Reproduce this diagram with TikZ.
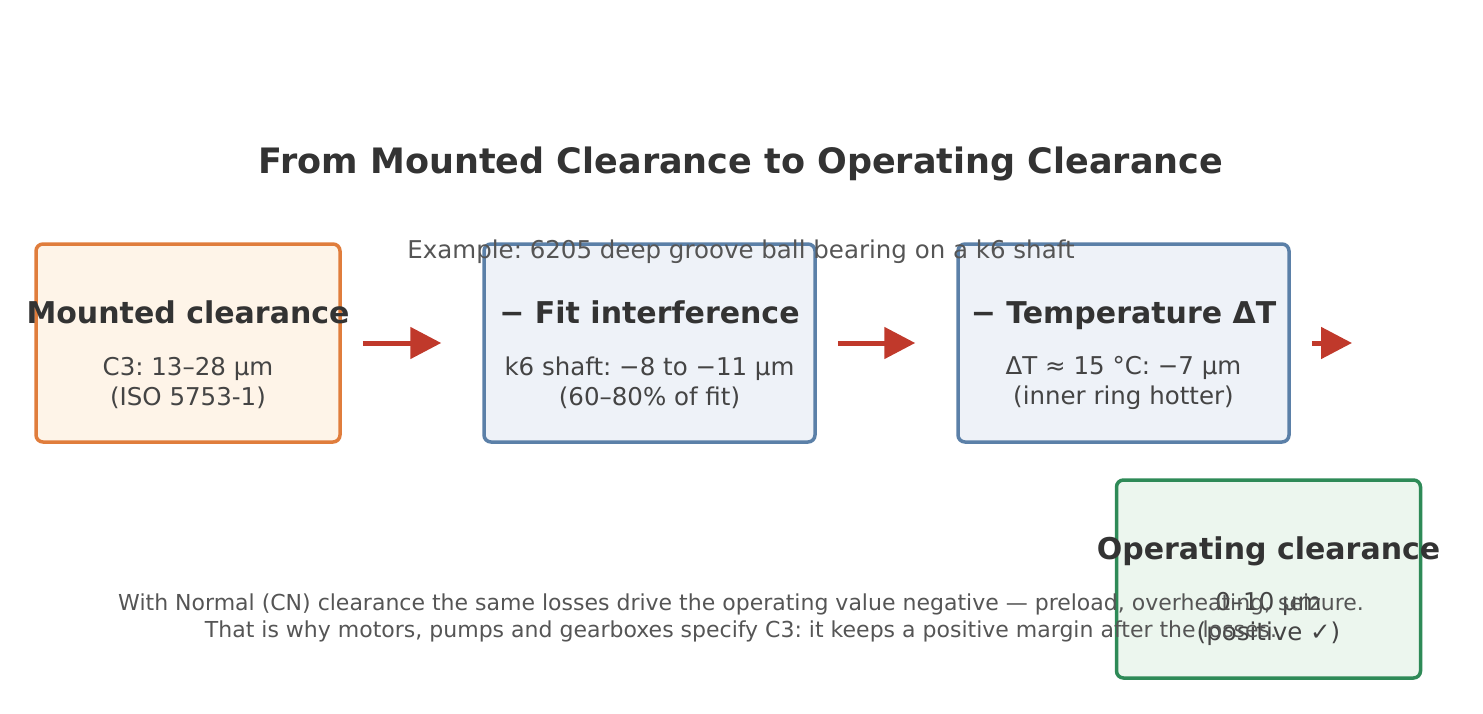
\documentclass[tikz,border=0pt]{standalone}
\usepackage{fontspec}
\setmainfont{DejaVu Sans}
\usetikzlibrary{arrows.meta, positioning}
\frenchspacing

\definecolor{titlegray}{HTML}{333333}
\definecolor{bodygray}{HTML}{444444}
\definecolor{notegray}{HTML}{555555}
\definecolor{orangeline}{HTML}{E07D3C}
\definecolor{orangefill}{HTML}{FEF4E8}
\definecolor{blueline}{HTML}{5B80A8}
\definecolor{bluefill}{HTML}{EEF2F8}
\definecolor{greenline}{HTML}{2E8A57}
\definecolor{greenfill}{HTML}{ECF6EE}
\definecolor{arrowred}{HTML}{C0392B}

\begin{document}
\begin{tikzpicture}[x=1pt,y=-1pt,>={Triangle[length=31pt,width=31pt]},line width=3.5pt]
	\tikzstyle{box}=[draw,rounded corners=7pt,minimum width=304pt,minimum height=198pt,inner sep=0pt]
	\tikzstyle{head}=[text=titlegray,font=\fontsize{30}{36}\selectfont\bfseries,inner sep=0pt,anchor=base]
	\tikzstyle{body}=[text=bodygray,font=\fontsize{24.5}{30}\selectfont,align=center,inner sep=0pt]
	\tikzstyle{note}=[text=notegray,font=\fontsize{22}{27}\selectfont,align=center,inner sep=0pt]
	\tikzstyle{flow}=[->,draw=arrowred,fill=arrowred,line width=5pt,shorten <=21pt,shorten >=41pt]

	\useasboundingbox (0,0) rectangle (1483,714);

	\node[text=titlegray,font=\fontsize{35}{42}\selectfont\bfseries] (title) at (741,164) {From Mounted Clearance to Operating Clearance};

	\node[box,draw=orangeline,fill=orangefill] (M) at (188,343) {};
	\node[box,draw=blueline,fill=bluefill,minimum width=331pt] (F) at (649.5,343) {};
	\node[box,draw=blueline,fill=bluefill,minimum width=331pt] (T) at (1123.5,343) {};
	\node[box,draw=greenline,fill=greenfill] (O) at (1268.5,579) {};

	\node[text=notegray,font=\fontsize{24.5}{30}\selectfont] (sub) at (741,252) {Example: 6205 deep groove ball bearing on a k6 shaft};

	\node[head] (Mh) at ([yshift=20pt]M.center) {Mounted clearance};
	\node[body] (Mb) at ([yshift=-40pt]M.center) {C3: 13–28 µm\\(ISO 5753-1)};
	\node[head] (Fh) at ([yshift=20pt]F.center) {− Fit interference};
	\node[body] (Fb) at ([yshift=-40pt]F.center) {k6 shaft: −8 to −11 µm\\(60–80\% of fit)};
	\node[head] (Th) at ([yshift=20pt]T.center) {− Temperature ΔT};
	\node[body] (Tb) at ([yshift=-40pt]T.center) {ΔT ≈ 15 °C: −7 µm\\(inner ring hotter)};
	\node[head] (Oh) at ([yshift=20pt]O.center) {Operating clearance};
	\node[body] (Ob) at ([yshift=-40pt]O.center) {0–10 µm\\(positive ✓)};

	\coordinate (out) at (1352,343);
	\draw[flow] (M) -- (F);
	\draw[flow] (F) -- (T);
	\draw[flow,shorten >=0pt] (T.east) -- (out);

	\node[note] (foot) at (741,618) {With Normal (CN) clearance the same losses drive the operating value negative — preload, overheating, seizure.\\That is why motors, pumps and gearboxes specify C3: it keeps a positive margin after the losses.};
\end{tikzpicture}
\end{document}
